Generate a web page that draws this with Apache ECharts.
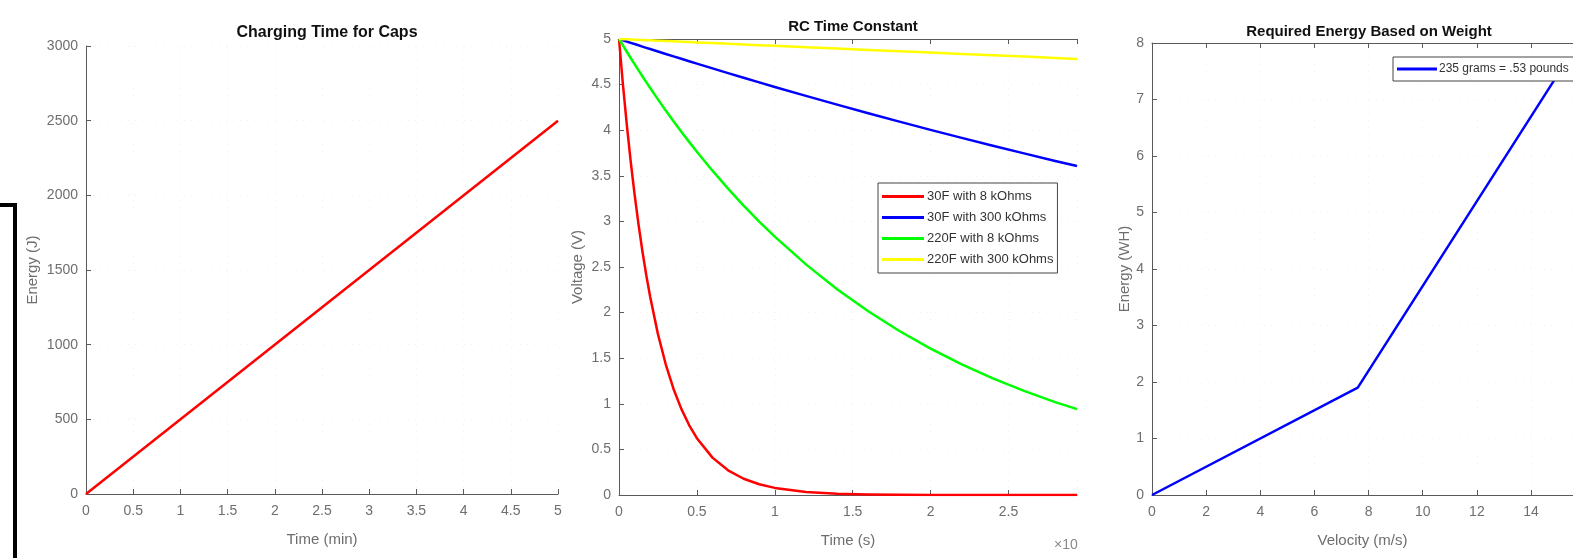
<!DOCTYPE html>
<html><head><meta charset="utf-8">
<script src="https://cdn.jsdelivr.net/npm/echarts@6/dist/echarts.min.js"></script>
<style>html,body{margin:0;padding:0;background:#fff}#c{width:1573px;height:558px}</style>
</head><body><div id="c"></div>
<script>
// ---- Data ----
const chargeTime = [0, 5];            // min
const chargeEnergy = [0, 2500];       // J

const rcTime = [0,0.025,0.05,0.075,0.1,0.125,0.15,0.175,0.2,0.25,0.3,0.35,0.4,0.45,0.5,0.6,0.7,0.8,0.9,1.0,1.2,1.4,1.6,1.8,2.0,2.2,2.4,2.6,2.8,2.94]; // x10^6 s
const v30F8k   = [5,4.505,4.060,3.659,3.296,2.970,2.676,2.411,2.173,1.764,1.433,1.163,0.944,0.767,0.623,0.410,0.271,0.178,0.118,0.078,0.034,0.015,0.006,0.003,0.001,0,0,0,0,0];
const v30F300k = [5,4.986,4.972,4.958,4.945,4.931,4.917,4.903,4.890,4.863,4.836,4.809,4.783,4.756,4.730,4.678,4.626,4.575,4.524,4.474,4.376,4.280,4.186,4.094,4.004,3.916,3.830,3.746,3.663,3.607];
const v220F8k  = [5,4.930,4.860,4.792,4.724,4.658,4.592,4.527,4.463,4.338,4.217,4.098,3.984,3.872,3.764,3.556,3.359,3.174,2.998,2.833,2.529,2.257,2.015,1.798,1.605,1.433,1.279,1.142,1.019,0.941];
const v220F300k= [5,4.998,4.996,4.994,4.992,4.991,4.989,4.987,4.985,4.981,4.977,4.974,4.970,4.966,4.962,4.955,4.947,4.940,4.932,4.925,4.910,4.895,4.880,4.866,4.851,4.836,4.822,4.807,4.793,4.782];
const rcNames = ['30F with 8 kOhms','30F with 300 kOhms','220F with 8 kOhms','220F with 300 kOhms'];

const velocity = [0, 7.6, 15.2];     // m/s
const energyWH = [0, 1.9, 7.6];      // WH
const weightName = '235 grams = .53 pounds';

const titles = ['Charging Time for Caps','RC Time Constant','Required Energy Based on Weight'];

// ---- Styles ----
const FONT = 'Liberation Sans, Arial, sans-serif';
const AX = '#5a5a5a', LBL = '#6e6e6e';
const fmt = v => String(v);
function pairs(xs, ys){ return xs.map((x,i)=>[x, ys[i]]); }
function xA(grid, min, max, interval, name, gap, show){
  return {type:'value', gridIndex:grid, min, max, interval, name, nameLocation:'middle', nameGap:gap,
    nameTextStyle:{color:LBL, fontSize:15, fontFamily:FONT},
    axisLine:{show:true, onZero:false, lineStyle:{color:AX, width:1}},
    axisTick:{show:true, inside:true, length:5, lineStyle:{color:AX}},
    axisLabel:{color:LBL, fontSize:14, fontFamily:FONT, margin:10, showMaxLabel:show, formatter:fmt},
    splitLine:{show:true, lineStyle:{color:'#f0f0f0', type:[1,6]}}};
}
function yA(grid, min, max, interval, name, gap){
  return {type:'value', gridIndex:grid, min, max, interval, name, nameLocation:'middle', nameGap:gap,
    nameTextStyle:{color:LBL, fontSize:15, fontFamily:FONT},
    axisLine:{show:true, onZero:false, lineStyle:{color:AX, width:1}},
    axisTick:{show:true, inside:true, length:5, lineStyle:{color:AX}},
    axisLabel:{color:LBL, fontSize:14, fontFamily:FONT, margin:8, formatter:fmt},
    splitLine:{show:true, lineStyle:{color:'#f0f0f0', type:[1,6]}}};
}
function topA(grid, min, max, interval){
  return {type:'value', gridIndex:grid, position:'top', min, max, interval,
    axisLine:{show:true, onZero:false, lineStyle:{color:AX, width:1}},
    axisTick:{show:true, inside:true, length:5, lineStyle:{color:AX}},
    axisLabel:{show:false}, splitLine:{show:false}};
}

const chart = echarts.init(document.getElementById('c'), null, {renderer:'canvas'});
const rcColors = ['#ff0000','#0000ff','#00ff00','#ffff00'];
const rcData = [v30F8k, v30F300k, v220F8k, v220F300k];

chart.setOption({
  animation:false,
  backgroundColor:'#fff',
  title: [
    {text:titles[0], left:322, top:20, textAlign:'center', textStyle:{fontSize:16, fontWeight:'bold', color:'#111', fontFamily:FONT}},
    {text:titles[1], left:848, top:14, textAlign:'center', textStyle:{fontSize:15, fontWeight:'bold', color:'#111', fontFamily:FONT}},
    {text:titles[2], left:1364, top:19, textAlign:'center', textStyle:{fontSize:15, fontWeight:'bold', color:'#111', fontFamily:FONT}}
  ],
  grid: [
    {left:86, width:472, top:46, height:448},
    {left:619, width:458, top:39, height:456},
    {left:1152, width:421, top:43, height:452}
  ],
  xAxis: [
    xA(0, 0, 5, 0.5, 'Time (min)', 38, true),
    xA(1, 0, 2.94, 0.5, 'Time (s)', 38, false),
    xA(2, 0, 15.55, 2, 'Velocity (m/s)', 38, false),
    topA(1, 0, 2.94, 0.5),
    topA(2, 0, 15.55, 2)
  ],
  yAxis: [
    yA(0, 0, 3000, 500, 'Energy (J)', 46),
    yA(1, 0, 5, 0.5, 'Voltage (V)', 34),
    yA(2, 0, 8, 1, 'Energy (WH)', 20)
  ],
  legend: [
    {data: rcNames, orient:'vertical', left:878, top:183, itemWidth:42, itemHeight:3, icon:'rect', itemGap:8,
     padding:[7,4,7,4], backgroundColor:'#fff', borderColor:'#444', borderWidth:1, borderRadius:0,
     textStyle:{fontSize:13, color:'#333', fontFamily:FONT, padding:[0,0,0,-2]}},
    {data: [weightName], left:1393, top:57, itemWidth:40, itemHeight:3, icon:'rect',
     padding:[6,8,6,4], backgroundColor:'#fff', borderColor:'#444', borderWidth:1, borderRadius:0,
     textStyle:{fontSize:12, color:'#333', fontFamily:FONT, padding:[0,0,0,-3]}}
  ],
  series: [
    {type:'line', name:'charge', xAxisIndex:0, yAxisIndex:0, data:pairs(chargeTime, chargeEnergy),
     showSymbol:false, lineStyle:{color:'#ff0000', width:2.5}, itemStyle:{color:'#ff0000'}},
    ...rcNames.map((n,i)=>({type:'line', name:n, xAxisIndex:1, yAxisIndex:1, data:pairs(rcTime, rcData[i]),
      showSymbol:false, clip:true, z:3+i, lineStyle:{color:rcColors[i], width:2.5, join:'round'}, itemStyle:{color:rcColors[i]}})),
    {type:'line', name:weightName, xAxisIndex:2, yAxisIndex:2, data:pairs(velocity, energyWH),
     showSymbol:false, lineStyle:{color:'#0000ff', width:2.5}, itemStyle:{color:'#0000ff'}}
  ],
  graphic: [
    {type:'polyline', shape:{points:[[0,205],[15,205],[15,560]]}, style:{stroke:'#000', lineWidth:4, fill:null}},
    {type:'text', left:1054, top:538, style:{text:'\u00d710', fontSize:14, fill:'#8a8a8a', fontFamily:FONT}}
  ]
});
</script></body></html>
